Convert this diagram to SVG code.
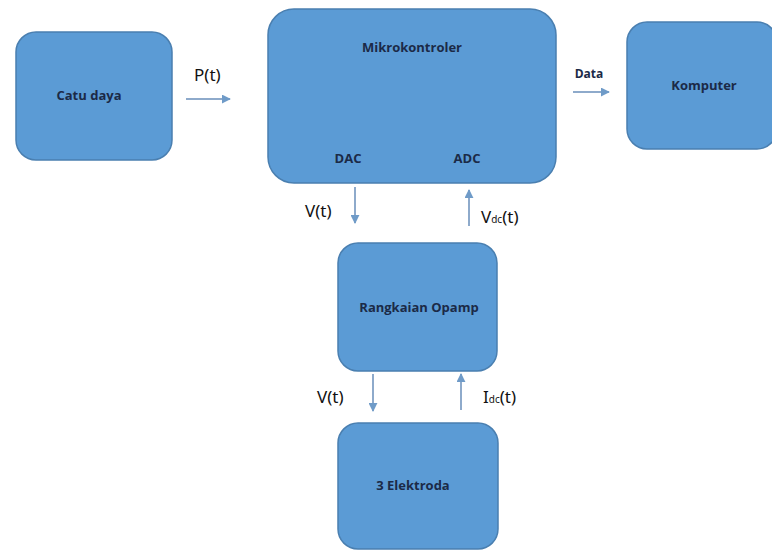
<svg xmlns="http://www.w3.org/2000/svg" width="772" height="551" viewBox="0 0 772 551">
<defs>
<style>
.box{fill:#5b9bd5;stroke:#4a7fb0;stroke-width:1.5}
.nl{font-family:"Open Sans","Noto Sans",sans-serif;font-weight:bold;font-size:13px;fill:#1b2a47;text-anchor:middle}
.el{font-family:"Noto Sans","Open Sans",sans-serif;font-size:17px;fill:#111}
.sub{font-size:10px}
.ar{stroke:#8eaacb;stroke-width:2;fill:none;marker-end:url(#ah)}
</style>
<marker id="ah" viewBox="0 0 10 10" refX="9" refY="5" markerWidth="4.5" markerHeight="4.5" orient="auto" markerUnits="strokeWidth">
<path d="M0,0 L10,5 L0,10 z" fill="#6f9bc8"/>
</marker>
</defs>
<rect width="772" height="551" fill="#ffffff"/>
<g id="catu-daya">
<rect class="box" x="16" y="32" width="156" height="128" rx="20"/>
<text class="nl" x="89" y="100">Catu daya</text>
</g>
<g id="mikrokontroler">
<rect class="box" x="268" y="9" width="288" height="174" rx="26"/>
<text class="nl" x="412" y="52">Mikrokontroler</text>
<text class="nl" x="348" y="163">DAC</text>
<text class="nl" x="467" y="163">ADC</text>
</g>
<g id="komputer">
<rect class="box" x="627" y="22" width="150" height="127" rx="20"/>
<text class="nl" x="704" y="90">Komputer</text>
</g>
<g id="rangkaian-opamp">
<rect class="box" x="338" y="243" width="159" height="128" rx="20"/>
<text class="nl" x="419" y="312">Rangkaian Opamp</text>
</g>
<g id="elektroda">
<rect class="box" x="338" y="423" width="160" height="126" rx="20"/>
<text class="nl" x="413" y="490">3 Elektroda</text>
</g>
<g id="connectors">
<line class="ar" x1="186" y1="99" x2="230" y2="99"/>
<line class="ar" x1="573" y1="92" x2="609" y2="92"/>
<line class="ar" x1="355" y1="187" x2="355" y2="223"/>
<line class="ar" x1="469" y1="226" x2="469" y2="190"/>
<line class="ar" x1="373" y1="374" x2="373" y2="411"/>
<line class="ar" x1="461" y1="410" x2="461" y2="374"/>
<text class="el" x="194" y="81">P(t)</text>
<text class="nl" x="589" y="78" style="font-size:12px">Data</text>
<text class="el" x="305" y="217">V(t)</text>
<text class="el" x="481" y="223">V<tspan class="sub">dc</tspan>(t)</text>
<text class="el" x="317" y="403">V(t)</text>
<text class="el" x="483" y="403">I<tspan class="sub">dc</tspan>(t)</text>
</g>
</svg>
